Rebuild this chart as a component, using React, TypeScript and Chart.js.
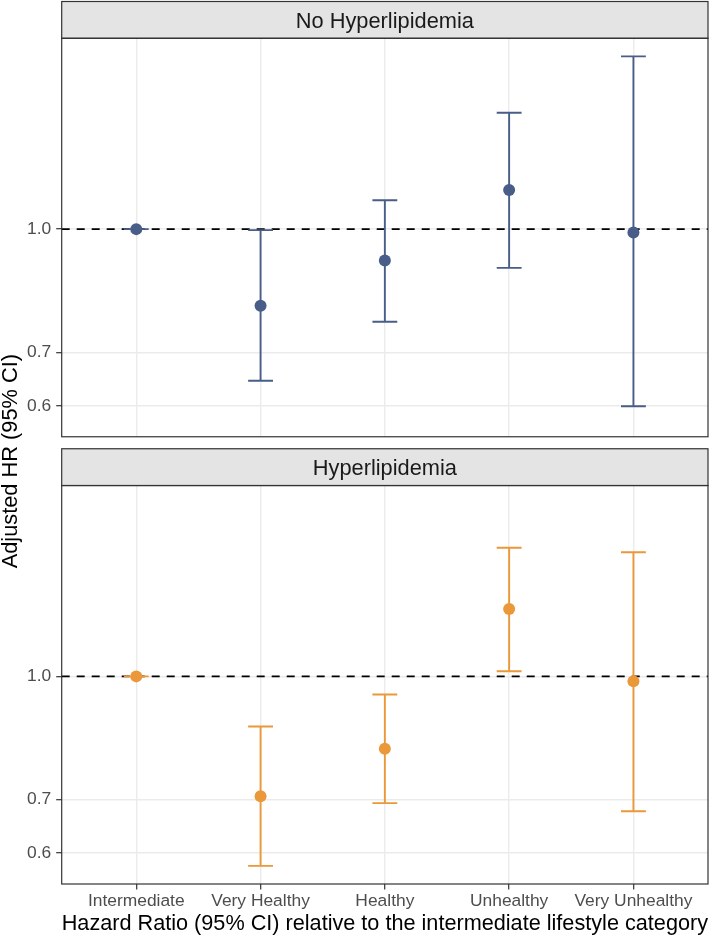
import { useEffect, useRef } from "react";
import { Chart, registerables } from "chart.js";

Chart.register(...registerables);

// ---------- data ----------
const categories = ["Intermediate", "Very Healthy", "Healthy", "Unhealthy", "Very Unhealthy"];
const panelTitles = ["No Hyperlipidemia", "Hyperlipidemia"];

const noHyperHR = [1.0, 0.801, 0.913, 1.12, 0.99];
const noHyperLower = [1.0, 0.645, 0.765, 0.894, 0.599];
const noHyperUpper = [1.0, 0.997, 1.087, 1.4, 1.648];

const hyperHR = [1.0, 0.707, 0.811, 1.215, 0.986];
const hyperLower = [1.0, 0.578, 0.693, 1.015, 0.677];
const hyperUpper = [1.0, 0.865, 0.949, 1.451, 1.432];

const yTickValues = [0.6, 0.7, 1.0];
const yLimits = [0.5485, 1.7367];
const referenceHR = 1.0;

const xTitle = "Hazard Ratio (95% CI) relative to the intermediate lifestyle category";
const yTitle = "Adjusted HR (95% CI)";

// ---------- style ----------
const FONT = "'Liberation Sans', Arial, Helvetica, sans-serif";
const BLUE = "#485D87";
const ORANGE = "#EA983A";
const GRID = "#EBEBEB";
const DARK = "#333333";
const STRIP_FILL = "#E4E4E4";
const STRIP_H = 36.8;
const GAP = 12;
const AXIS_W = 61.7;

const panels = [
  { yId: "yTop", hr: noHyperHR, lo: noHyperLower, hi: noHyperUpper, color: BLUE, title: panelTitles[0] },
  { yId: "yBot", hr: hyperHR, lo: hyperLower, hi: hyperUpper, color: ORANGE, title: panelTitles[1] },
];

const facetPlugin = {
  id: "facetDecor",
  beforeDatasetsDraw(chart: any) {
    const ctx = chart.ctx as CanvasRenderingContext2D;
    const { left, right } = chart.chartArea;
    const xs = chart.scales.x;
    const yTop = chart.scales.yTop;
    const yBot = chart.scales.yBot;
    ctx.save();
    // blank gap between panels (hide x grid there)
    ctx.fillStyle = "#FFFFFF";
    ctx.fillRect(left - 2, yTop.bottom, right - left + 4, yBot.top - yTop.bottom);

    // strips
    const strips = [
      { top: yTop.top - STRIP_H, bottom: yTop.top, text: panels[0].title },
      { top: yBot.top - STRIP_H, bottom: yBot.top, text: panels[1].title },
    ];
    for (const s of strips) {
      ctx.fillStyle = STRIP_FILL;
      ctx.fillRect(left, s.top, right - left, s.bottom - s.top);
      ctx.fillStyle = "#1A1A1A";
      ctx.font = `21.8px ${FONT}`;
      ctx.textAlign = "center";
      ctx.textBaseline = "alphabetic";
      ctx.fillText(s.text, (left + right) / 2, s.top + 26.6);
    }

    // reference line and error bars
    for (const p of panels) {
      const ys = chart.scales[p.yId];
      const yRef = ys.getPixelForValue(referenceHR);
      ctx.strokeStyle = "#000000";
      ctx.lineWidth = 1.9;
      ctx.setLineDash([8, 7]);
      ctx.beginPath();
      ctx.moveTo(left, yRef);
      ctx.lineTo(right, yRef);
      ctx.stroke();
      ctx.setLineDash([]);

      ctx.strokeStyle = p.color;
      ctx.lineWidth = 1.9;
      ctx.lineCap = "butt";
      for (let i = 0; i < categories.length; i++) {
        const xc = xs.getPixelForValue(i);
        const xl = xs.getPixelForValue(i - 0.1);
        const xr = xs.getPixelForValue(i + 0.1);
        const yl = ys.getPixelForValue(p.lo[i]);
        const yh = ys.getPixelForValue(p.hi[i]);
        ctx.beginPath();
        ctx.moveTo(xc, yl);
        ctx.lineTo(xc, yh);
        ctx.moveTo(xl, yl);
        ctx.lineTo(xr, yl);
        ctx.moveTo(xl, yh);
        ctx.lineTo(xr, yh);
        ctx.stroke();
      }
    }
    ctx.restore();
  },
  afterDatasetsDraw(chart: any) {
    const ctx = chart.ctx as CanvasRenderingContext2D;
    const { left, right } = chart.chartArea;
    const yTop = chart.scales.yTop;
    const yBot = chart.scales.yBot;
    ctx.save();
    ctx.strokeStyle = DARK;
    ctx.lineWidth = 1.2;
    for (const ys of [yTop, yBot]) {
      ctx.strokeRect(left, ys.top - STRIP_H, right - left, STRIP_H);
      ctx.strokeRect(left, ys.top, right - left, ys.bottom - ys.top);
    }
    ctx.restore();
  },
};

function logAxis(weight: number) {
  return {
    type: "logarithmic" as const,
    position: "left" as const,
    stack: "panels",
    stackWeight: 398.5,
    weight,
    min: yLimits[0],
    max: yLimits[1],
    bounds: "data" as const,
    afterBuildTicks: (s: any) => {
      s.ticks = yTickValues.map((v) => ({ value: v }));
    },
    afterFit: (s: any) => {
      s.width = AXIS_W;
    },
    border: { display: false },
    grid: {
      color: GRID,
      lineWidth: 1.4,
      tickColor: DARK,
      tickWidth: 1.2,
      tickLength: 5.5,
      drawTicks: true,
    },
    ticks: {
      autoSkip: false,
      padding: 5,
      color: "#4D4D4D",
      font: { family: FONT, size: 17.4 },
      callback: (v: any) => Number(v).toFixed(1),
    },
  };
}

export default function App() {
  const ref = useRef<HTMLCanvasElement>(null);

  useEffect(() => {
    if (!ref.current) return;
    const chart = new Chart(ref.current, {
      type: "scatter",
      data: {
        datasets: panels.map((p) => ({
          label: p.title,
          xAxisID: "x",
          yAxisID: p.yId,
          data: categories.map((_, i) => ({ x: i, y: p.hr[i] })),
          pointRadius: 6,
          pointHoverRadius: 6,
          pointBackgroundColor: p.color,
          pointBorderWidth: 0,
          borderColor: p.color,
          showLine: false,
        })),
      },
      options: {
        responsive: false,
        animation: false,
        devicePixelRatio: 1,
        events: [],
        layout: { padding: { top: 38.3, right: 3.3, bottom: 0, left: 0 } },
        plugins: {
          legend: { display: false },
          tooltip: { enabled: false },
          title: { display: false },
        },
        scales: {
          x: {
            type: "linear",
            position: "bottom",
            min: -0.6,
            max: categories.length - 0.4,
            bounds: "data",
            afterBuildTicks: (s: any) => {
              s.ticks = categories.map((_, i) => ({ value: i }));
            },
            afterFit: (s: any) => {
              s.height = 54;
            },
            border: { display: false },
            grid: {
              color: GRID,
              lineWidth: 1.4,
              tickColor: DARK,
              tickWidth: 1.2,
              tickLength: 5.5,
              drawTicks: true,
            },
            ticks: {
              autoSkip: false,
              maxRotation: 0,
              minRotation: 0,
              padding: 1,
              color: "#4D4D4D",
              font: { family: FONT, size: 17.4 },
              callback: (v: any) => categories[Math.round(Number(v))] ?? "",
            },
            title: {
              display: true,
              text: xTitle,
              color: "#000000",
              font: { family: FONT, size: 21.9, lineHeight: 1.2 },
              padding: { top: 0, bottom: 0.9 },
            },
          },
          yTop: logAxis(3),
          ySpacer: {
            type: "linear",
            position: "left",
            stack: "panels",
            stackWeight: GAP + STRIP_H,
            weight: 2,
            afterFit: (s: any) => {
              s.width = AXIS_W;
            },
            border: { display: false },
            grid: { display: false, drawTicks: false },
            ticks: { display: false },
            title: {
              display: true,
              text: yTitle,
              color: "#000000",
              font: { family: FONT, size: 21.8, lineHeight: 0.97 },
              padding: 0,
            },
          },
          yBot: logAxis(1),
        },
      } as any,
      plugins: [facetPlugin],
    });
    return () => chart.destroy();
  }, []);

  return (
    <canvas
      ref={ref}
      width={714}
      height={938}
      style={{ position: "absolute", left: 0, top: 0, display: "block", width: 714, height: 938 }}
    />
  );
}
